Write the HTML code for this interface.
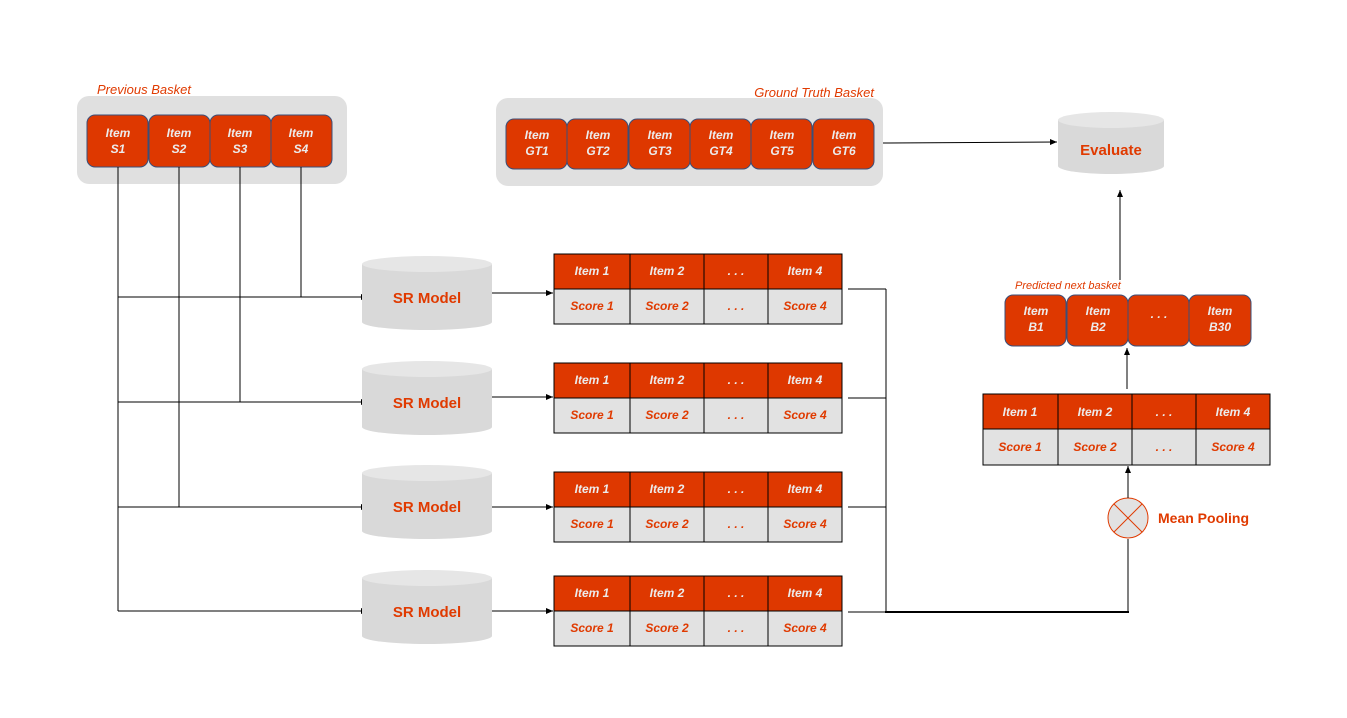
<!DOCTYPE html>
<html><head><meta charset="utf-8"><style>
html,body{margin:0;padding:0;background:#fff}
svg{display:block}
text{font-family:"Liberation Sans",Arial,sans-serif}
.it{font-size:12px;font-weight:bold;font-style:italic;fill:#ececec;text-anchor:middle}
.sc{font-size:12px;font-weight:bold;font-style:italic;fill:#e03a00;text-anchor:middle}
.lb{font-size:13px;font-style:italic;fill:#e03a00}
.bx{fill:#de3800;stroke:#3a4f7a;stroke-width:1}
.ln{stroke:#000;stroke-width:1;fill:none}
.big{font-size:15px;font-weight:bold;fill:#e03a00;text-anchor:middle}
</style></head><body>
<svg width="1347" height="718" viewBox="0 0 1347 718" xmlns="http://www.w3.org/2000/svg">
<defs>
<marker id="a" markerWidth="8" markerHeight="8" refX="7" refY="3" orient="auto" markerUnits="userSpaceOnUse"><path d="M0,0 L7,3 L0,6 z" fill="#000"/></marker>
</defs>

<!-- Previous basket -->
<text class="lb" x="97" y="94">Previous Basket</text>
<rect x="77" y="96" width="270" height="88" rx="12" fill="#e0e0e0"/>
<rect class="bx" x="87" y="115" width="61" height="52" rx="8"/>
<rect class="bx" x="149" y="115" width="61" height="52" rx="8"/>
<rect class="bx" x="210" y="115" width="61" height="52" rx="8"/>
<rect class="bx" x="271" y="115" width="61" height="52" rx="8"/>
<text class="it" x="118" y="137">Item</text><text class="it" x="118" y="153">S1</text>
<text class="it" x="179" y="137">Item</text><text class="it" x="179" y="153">S2</text>
<text class="it" x="240" y="137">Item</text><text class="it" x="240" y="153">S3</text>
<text class="it" x="301" y="137">Item</text><text class="it" x="301" y="153">S4</text>

<!-- Ground truth -->
<text class="lb" x="874" y="97" text-anchor="end">Ground Truth Basket</text>
<rect x="496" y="98" width="387" height="88" rx="12" fill="#e0e0e0"/>
<g>
<rect class="bx" x="506" y="119" width="61" height="50" rx="8"/>
<rect class="bx" x="567" y="119" width="61" height="50" rx="8"/>
<rect class="bx" x="629" y="119" width="61" height="50" rx="8"/>
<rect class="bx" x="690" y="119" width="61" height="50" rx="8"/>
<rect class="bx" x="751" y="119" width="61" height="50" rx="8"/>
<rect class="bx" x="813" y="119" width="61" height="50" rx="8"/>
<text class="it" x="537" y="139">Item</text><text class="it" x="537" y="155">GT1</text>
<text class="it" x="598" y="139">Item</text><text class="it" x="598" y="155">GT2</text>
<text class="it" x="660" y="139">Item</text><text class="it" x="660" y="155">GT3</text>
<text class="it" x="721" y="139">Item</text><text class="it" x="721" y="155">GT4</text>
<text class="it" x="782" y="139">Item</text><text class="it" x="782" y="155">GT5</text>
<text class="it" x="844" y="139">Item</text><text class="it" x="844" y="155">GT6</text>
</g>
<line class="ln" x1="883" y1="143" x2="1057" y2="142" marker-end="url(#a)"/>

<!-- Evaluate -->
<path d="M1058,120 L1058,166 A53,8 0 0 0 1164,166 L1164,120 Z" fill="#d9d9d9"/>
<ellipse cx="1111" cy="120" rx="53" ry="8" fill="#e6e6e6"/>
<text class="big" x="1111" y="155">Evaluate</text>

<!-- left connectors -->
<line class="ln" x1="118" y1="167" x2="118" y2="611"/>
<line class="ln" x1="179" y1="167" x2="179" y2="507"/>
<line class="ln" x1="240" y1="167" x2="240" y2="402"/>
<line class="ln" x1="301" y1="167" x2="301" y2="297"/>
<line class="ln" x1="118" y1="297" x2="368" y2="297" marker-end="url(#a)"/>
<line class="ln" x1="118" y1="402" x2="368" y2="402" marker-end="url(#a)"/>
<line class="ln" x1="118" y1="507" x2="368" y2="507" marker-end="url(#a)"/>
<line class="ln" x1="118" y1="611" x2="368" y2="611" marker-end="url(#a)"/>

<!-- SR models -->
<g id="sr">
<path d="M362,264 L362,322 A65,8 0 0 0 492,322 L492,264 Z" fill="#d9d9d9"/>
<ellipse cx="427" cy="264" rx="65" ry="8" fill="#e6e6e6"/>
<text class="big" x="427" y="303">SR Model</text>
</g>
<use href="#sr" y="105"/>
<use href="#sr" y="209"/>
<use href="#sr" y="314"/>

<!-- tables -->
<g id="tb">
<rect x="554" y="254" width="288" height="35" fill="#de3800" stroke="#000"/>
<rect x="554" y="289" width="288" height="35" fill="#e2e2e2" stroke="#000"/>
<line class="ln" x1="630" y1="254" x2="630" y2="324"/>
<line class="ln" x1="704" y1="254" x2="704" y2="324"/>
<line class="ln" x1="768" y1="254" x2="768" y2="324"/>
<text class="it" x="592" y="275">Item 1</text>
<text class="it" x="667" y="275">Item 2</text>
<text class="it" x="736" y="275">. . .</text>
<text class="it" x="805" y="275">Item 4</text>
<text class="sc" x="592" y="310">Score 1</text>
<text class="sc" x="667" y="310">Score 2</text>
<text class="sc" x="736" y="310">. . .</text>
<text class="sc" x="805" y="310">Score 4</text>
</g>
<use href="#tb" y="109"/>
<use href="#tb" y="218"/>
<use href="#tb" y="322"/>
<line class="ln" x1="492" y1="293" x2="553" y2="293" marker-end="url(#a)"/>
<line class="ln" x1="492" y1="397" x2="553" y2="397" marker-end="url(#a)"/>
<line class="ln" x1="492" y1="507" x2="553" y2="507" marker-end="url(#a)"/>
<line class="ln" x1="492" y1="611" x2="553" y2="611" marker-end="url(#a)"/>

<!-- right connectors -->
<line class="ln" x1="848" y1="289" x2="886" y2="289"/>
<line class="ln" x1="848" y1="398" x2="886" y2="398"/>
<line class="ln" x1="848" y1="507" x2="886" y2="507"/>
<line class="ln" x1="848" y1="612" x2="886" y2="612"/>
<line class="ln" x1="886" y1="289" x2="886" y2="612"/>
<line x1="885" y1="612" x2="1129" y2="612" stroke="#000" stroke-width="2"/>
<line class="ln" x1="1128" y1="612" x2="1128" y2="539"/>

<!-- mean pooling -->
<circle cx="1128" cy="518" r="20" fill="#e2e2e2" stroke="#e03a00" stroke-width="1"/>
<line x1="1114" y1="504" x2="1142" y2="532" stroke="#e03a00"/>
<line x1="1142" y1="504" x2="1114" y2="532" stroke="#e03a00"/>
<text x="1158" y="523" style="font-size:14px;font-weight:bold;fill:#e03a00">Mean Pooling</text>
<line class="ln" x1="1128" y1="498" x2="1128" y2="466" marker-end="url(#a)"/>

<!-- right table -->
<rect x="983" y="394" width="287" height="35" fill="#de3800" stroke="#000"/>
<rect x="983" y="429" width="287" height="36" fill="#e2e2e2" stroke="#000"/>
<line class="ln" x1="1058" y1="394" x2="1058" y2="465"/>
<line class="ln" x1="1132" y1="394" x2="1132" y2="465"/>
<line class="ln" x1="1196" y1="394" x2="1196" y2="465"/>
<text class="it" x="1020" y="416">Item 1</text>
<text class="it" x="1095" y="416">Item 2</text>
<text class="it" x="1164" y="416">. . .</text>
<text class="it" x="1233" y="416">Item 4</text>
<text class="sc" x="1020" y="451">Score 1</text>
<text class="sc" x="1095" y="451">Score 2</text>
<text class="sc" x="1164" y="451">. . .</text>
<text class="sc" x="1233" y="451">Score 4</text>
<line class="ln" x1="1127" y1="389" x2="1127" y2="348" marker-end="url(#a)"/>

<!-- predicted basket -->
<text x="1015" y="289" style="font-size:11px;font-style:italic;fill:#e03a00">Predicted next basket</text>
<rect class="bx" x="1005" y="295" width="61" height="51" rx="8"/>
<rect class="bx" x="1067" y="295" width="61" height="51" rx="8"/>
<rect class="bx" x="1128" y="295" width="61" height="51" rx="8"/>
<rect class="bx" x="1189" y="295" width="62" height="51" rx="8"/>
<text class="it" x="1036" y="315">Item</text><text class="it" x="1036" y="331">B1</text>
<text class="it" x="1098" y="315">Item</text><text class="it" x="1098" y="331">B2</text>
<text class="it" x="1159" y="318">. . .</text>
<text class="it" x="1220" y="315">Item</text><text class="it" x="1220" y="331">B30</text>
<line class="ln" x1="1120" y1="280" x2="1120" y2="190" marker-end="url(#a)"/>
</svg>
</body></html>
